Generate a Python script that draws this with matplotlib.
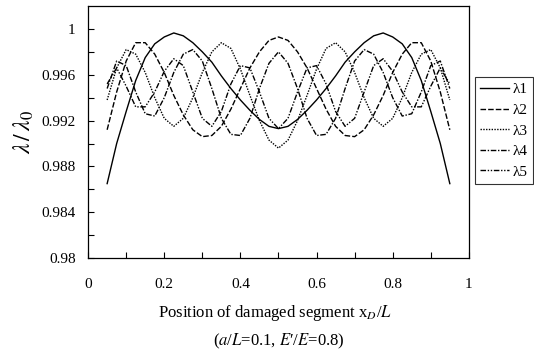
import numpy as np
import matplotlib
matplotlib.use("Agg")
from matplotlib import pyplot as plt

plt.rcParams['font.family'] = ['Liberation Serif', 'DejaVu Serif']
plt.rcParams['mathtext.fontset'] = 'stix'

# damage position x_D/L (step 0.025)
xd = np.linspace(0.05, 0.95, 37)

# frequency ratios
lam1 = [0.9865, 0.9900, 0.9928, 0.9955, 0.9975, 0.9987, 0.9993, 0.99965, 0.9994,
        0.9988, 0.9980, 0.9971, 0.9959, 0.9948, 0.9938, 0.9929, 0.9921, 0.9915,
        0.9913,
        0.9915, 0.9921, 0.9929, 0.9938, 0.9948, 0.9959, 0.9971, 0.9980, 0.9988,
        0.9994, 0.99965, 0.9993, 0.9987, 0.9975, 0.9955, 0.9928, 0.9900, 0.9865]
lam2 = [0.9912, 0.9945, 0.9972, 0.9988, 0.9988, 0.9978, 0.9962, 0.9942, 0.9925,
        0.9912, 0.9906, 0.9907, 0.9915, 0.9930, 0.9948, 0.9966, 0.9980, 0.9990,
        0.9993,
        0.9990, 0.9980, 0.9966, 0.9948, 0.9930, 0.9915, 0.9907, 0.9906, 0.9912,
        0.9925, 0.9942, 0.9962, 0.9978, 0.9988, 0.9988, 0.9972, 0.9945, 0.9912]
lam3 = [0.9938, 0.9966, 0.9982, 0.9978, 0.9962, 0.9940, 0.9922, 0.9915, 0.9922,
        0.9940, 0.9962, 0.9980, 0.9988, 0.9983, 0.9965, 0.9942, 0.9920, 0.9903,
        0.9896,
        0.9903, 0.9920, 0.9942, 0.9965, 0.9983, 0.9988, 0.9980, 0.9962, 0.9940,
        0.9922, 0.9915, 0.9922, 0.9940, 0.9962, 0.9978, 0.9982, 0.9966, 0.9938]
lam4 = [0.9948, 0.9972, 0.9968, 0.9945, 0.9926, 0.9924, 0.9940, 0.9962, 0.9978,
        0.9982, 0.9972, 0.9948, 0.9922, 0.9908, 0.9907, 0.9922, 0.9948, 0.9970,
        0.9980,
        0.9970, 0.9948, 0.9922, 0.9907, 0.9908, 0.9922, 0.9948, 0.9972, 0.9982,
        0.9978, 0.9962, 0.9940, 0.9924, 0.9926, 0.9945, 0.9968, 0.9972, 0.9948]
lam5 = [0.9952, 0.9966, 0.9950, 0.9932, 0.9932, 0.9945, 0.9963, 0.9974, 0.9968,
        0.9945, 0.9922, 0.9915, 0.9928, 0.9952, 0.9968, 0.9966, 0.9945, 0.9922,
        0.9913,
        0.9922, 0.9945, 0.9966, 0.9968, 0.9952, 0.9928, 0.9915, 0.9922, 0.9945,
        0.9968, 0.9974, 0.9963, 0.9945, 0.9932, 0.9932, 0.9950, 0.9966, 0.9952]

labels = ['λ1', 'λ2', 'λ3', 'λ4', 'λ5']
yticks = [0.98, 0.984, 0.988, 0.992, 0.996, 1.0]
ytick_labels = ['0.98', '0.984', '0.988', '0.992', '0.996', '1']
xticks = [0, 0.2, 0.4, 0.6, 0.8, 1.0]
xtick_labels = ['0', '0.2', '0.4', '0.6', '0.8', '1']

fig = plt.figure(figsize=(5.34, 3.55), dpi=100)
ax = fig.add_axes([0.165, 0.273, 0.713, 0.71])

styles = ['-', (0, (4, 1.5)), (0, (1, 1)), (0, (4, 1.2, 1, 1.2)),
          (0, (4, 1.2, 1, 1.2, 1, 1.2))]
for ys, ls, lab in zip([lam1, lam2, lam3, lam4, lam5], styles, labels):
  ax.plot(xd, ys, color='black', linestyle=ls, linewidth=1.0, label=lab)

ax.set_xlim(0, 1)
ax.set_ylim(0.98, 1.002)
ax.set_xticks(xticks)
ax.set_xticklabels(xtick_labels)
ax.set_xticks(np.arange(0.1, 1.0, 0.2), minor=True)
ax.set_yticks(yticks)
ax.set_yticklabels(ytick_labels)
ax.set_yticks([0.982, 0.986, 0.990, 0.994, 0.998], minor=True)
ax.tick_params(which='both', direction='in', length=4, width=0.8,
               labelsize=11, top=False, right=False)
ax.tick_params(axis='x', pad=14)
ax.tick_params(axis='y', pad=9)
for sp in ax.spines.values():
  sp.set_linewidth(0.9)

ax.set_ylabel(r'$\lambda\,/\,\lambda_0$', fontsize=17, labelpad=4)
fig.text(0.515, 0.118, r'Position of damaged segment x$_{\mathit{D}}$/$\mathit{L}$',
         ha='center', va='center', fontsize=12)
fig.text(0.522, 0.037, r"($a$/$L$=0.1, $E$′/$E$=0.8)",
         ha='center', va='center', fontsize=12)

leg = ax.legend(loc='upper left', bbox_to_anchor=(0.889, 0.782),
                bbox_transform=fig.transFigure, fontsize=11, frameon=True,
                fancybox=False, handlelength=1.9, handletextpad=0.2,
                labelspacing=0.45, borderpad=0.35, borderaxespad=0)
leg.get_frame().set_edgecolor('black')
leg.get_frame().set_linewidth(0.8)

fig.savefig('out.png', dpi=100)
